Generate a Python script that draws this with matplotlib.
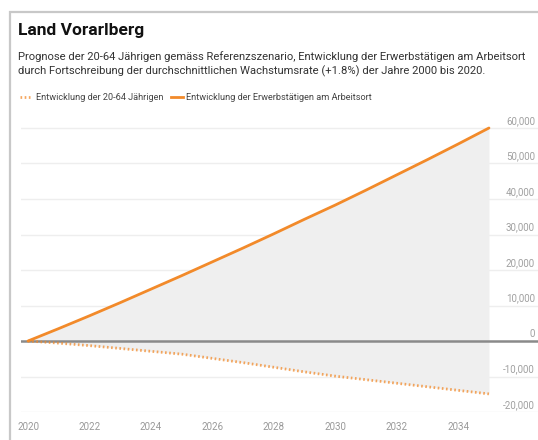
import matplotlib
matplotlib.use("Agg")
import matplotlib.pyplot as plt
from matplotlib.patches import Rectangle
from matplotlib.lines import Line2D
import matplotlib.transforms as mtransforms

plt.rcParams['font.family'] = ['Roboto', 'DejaVu Sans']

# data (change since 2020)
years = list(range(2020, 2036))
pop_20_64 = [0, -600, -1300, -2100, -2900, -3700, -4900, -6100, -7400,
             -8700, -9900, -10900, -11900, -12900, -13900, -14900]
employed = [0, 3500, 7100, 10800, 14600, 18400, 22300, 26200, 30200,
            34300, 38300, 42500, 46800, 51100, 55500, 60000]
yticks = [-20000, -10000, 0, 10000, 20000, 30000, 40000, 50000, 60000]
xticks = list(range(2020, 2035, 2))

title = "Land Vorarlberg"
subtitle = ("Prognose der 20-64 Jährigen gemäss Referenzszenario, Entwicklung der Erwerbstätigen am Arbeitsort\n"
            "durch Fortschreibung der durchschnittlichen Wachstumsrate (+1.8%) der Jahre 2000 bis 2020.")
lab_pop = "Entwicklung der 20-64 Jährigen"
lab_emp = "Entwicklung der Erwerbstätigen am Arbeitsort"

orange = "#f28a2a"
W, H = 538, 440
fig = plt.figure(figsize=(W / 100, H / 100), dpi=100)

# axes placed in pixel terms
left, right, top, bottom = 21, 538, 115, 412
ax = fig.add_axes([left / W, 1 - bottom / H, (right - left) / W, (bottom - top) / H])

ax.fill_between(years, pop_20_64, employed, color="#efefef", lw=0, zorder=1)
for v in yticks:
    if v == 0:
        continue
    ax.axhline(v, color="#eeeeee", lw=1, zorder=0)
ax.axhline(0, color="#8a8a8a", lw=1.8, zorder=2)
ax.plot(years, employed, color=orange, lw=2, zorder=3, solid_capstyle="round")
ax.plot(years, pop_20_64, color=orange, lw=2, ls=(0, (0.6, 0.9)), alpha=0.75, zorder=3)

px_per_year = 30.73
ax.set_xlim(2020 - 7 / px_per_year, 2020 + (right - 28) / px_per_year)
ylo = -20000
yhi = 60000 + (128 - top) / 35.5 * 10000
ax.set_ylim(ylo, yhi)

for s in ax.spines.values():
    s.set_visible(False)
ax.set_yticks([])
ax.set_xticks(xticks)
ax.set_xticklabels([str(x) for x in xticks], fontsize=7, color="#999999")
ax.tick_params(axis="x", length=0, pad=7)

off = mtransforms.offset_copy(ax.get_yaxis_transform(), fig=fig, x=-3, y=2, units="dots")
for v in yticks:
    ax.text(1.0, v, f"{v:,}", transform=off, ha="right", va="bottom",
            fontsize=7, color="#a0a0a0")

# frame border
fig.add_artist(Rectangle((10 / W, -0.1), 1.2, 1.1 - 12 / H, transform=fig.transFigure,
                         fill=False, edgecolor="#c8c8c8", lw=1.6))

fig.text(18 / W, 1 - 31 / H, title, fontsize=12.5, fontweight="bold", color="#111111",
         va="center", ha="left")
fig.text(18 / W, 1 - 64 / H, subtitle, fontsize=8.1, color="#333333", va="center",
         ha="left", linespacing=1.35)

handles = [Line2D([], [], color=orange, lw=2, ls=(0, (0.6, 0.9)), alpha=0.75),
           Line2D([], [], color=orange, lw=2)]
fig.legend(handles, [lab_pop, lab_emp], loc="center left", bbox_to_anchor=(12 / W, 1 - 98 / H),
           ncol=2, frameon=False, fontsize=6.6, handlelength=1.3, handletextpad=0.4,
           columnspacing=0.8, labelcolor="#444444")

fig.savefig("out.png", dpi=100)
